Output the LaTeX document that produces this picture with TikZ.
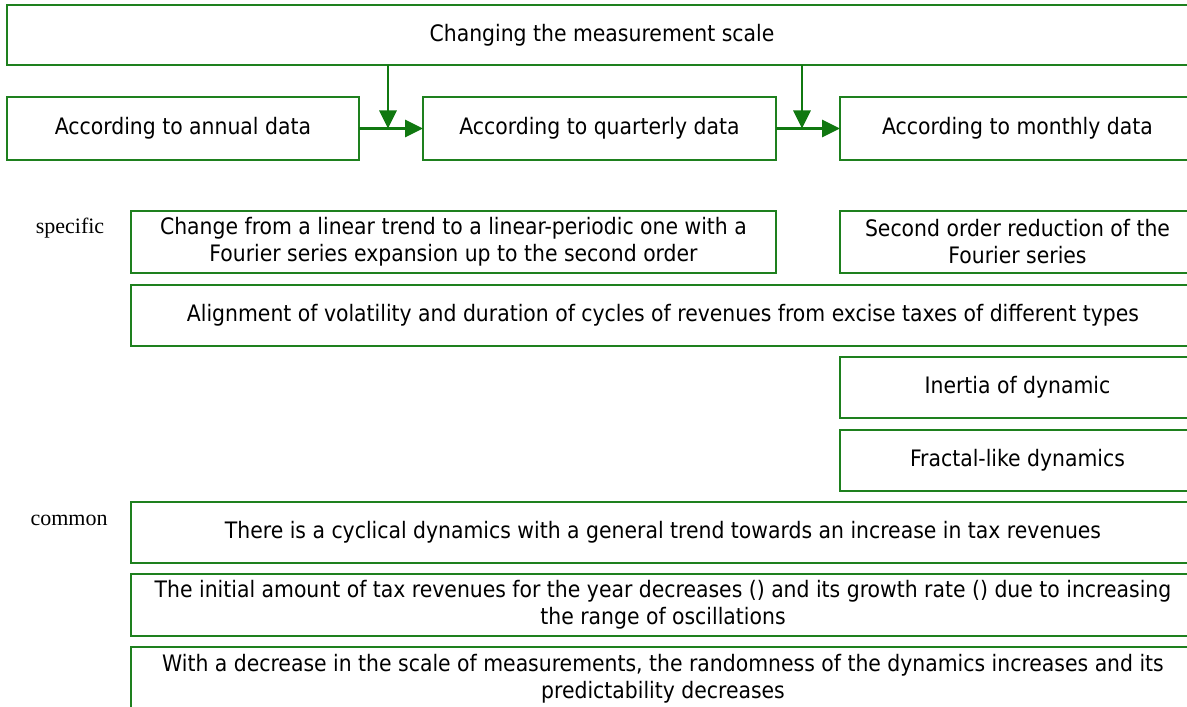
\documentclass[tikz,border=0pt]{standalone}
\usepackage{fontspec}
\newfontfamily\boxfam{DejaVu Sans Condensed}
\newfontfamily\labfam{Liberation Serif}
\usetikzlibrary{arrows.meta}
\definecolor{grn}{RGB}{30,128,30}
\definecolor{agrn}{RGB}{16,120,16}
\begin{document}
\begin{tikzpicture}[x=0.75pt,y=-0.75pt,
  box/.style={draw=grn, line width=0.9pt, inner sep=0pt, outer sep=0pt, align=center, anchor=north west, font=\boxfam\fontsize{17}{20.25}\selectfont},
  lab/.style={font=\labfam\fontsize{16.5}{20}\selectfont, inner sep=0pt},
  arr/.style={draw=agrn, line width=1.6pt, -{Triangle[length=13.5pt,width=13pt]}}]
\useasboundingbox (0,0) rectangle (1187,706);
\clip (0,0) rectangle (1187,706);
\node[box, minimum width=892.5pt, minimum height=45pt] (top) at (7,5) {Changing the measurement scale};
\node[box, minimum width=264pt, minimum height=47.25pt] (annual) at (7,97) {According to annual data};
\node[box, minimum width=264.75pt, minimum height=47.25pt] (quarter) at (423,97) {According to quarterly data};
\node[box, minimum width=266.25pt, minimum height=47.25pt] (month) at (840,97) {According to monthly data};
\node[box, minimum width=483.75pt, minimum height=46.5pt] (change) at (131,211) {Change from a linear trend to a linear-periodic one with a\\Fourier series expansion up to the second order};
\node[box, minimum width=266.25pt, minimum height=46.5pt] (second) at (840,211) {Second order reduction of the\\Fourier series};
\node[box, minimum width=798pt, minimum height=45.75pt] (align) at (131,285) {Alignment of volatility and duration of cycles of revenues from excise taxes of different types};
\node[box, minimum width=266.25pt, minimum height=45.75pt] (inertia) at (840,357) {Inertia of dynamic};
\node[box, minimum width=266.25pt, minimum height=45.75pt] (fractal) at (840,430) {Fractal-like dynamics};
\node[box, minimum width=798pt, minimum height=45.75pt] (com1) at (131,502) {There is a cyclical dynamics with a general trend towards an increase in tax revenues};
\node[box, minimum width=798pt, minimum height=46.5pt] (com2) at (131,574) {The initial amount of tax revenues for the year decreases () and its growth rate () due to increasing\\the range of oscillations};
\node[box, minimum width=798pt, minimum height=47.25pt] (com3) at (131,647) {With a decrease in the scale of measurements, the randomness of the dynamics increases and its\\predictability decreases};
\node[lab] (spec) at (70,228) {specific};
\node[lab] (comm) at (69,520) {common};
\coordinate (j1) at (388,128.5);
\coordinate (j2) at (802,128.5);
\draw[arr] (top.south -| j1) -- (j1);
\draw[arr] (top.south -| j2) -- (j2);
\draw[arr] (annual) -- (quarter);
\draw[arr] (quarter) -- (month);
\end{tikzpicture}
\end{document}
